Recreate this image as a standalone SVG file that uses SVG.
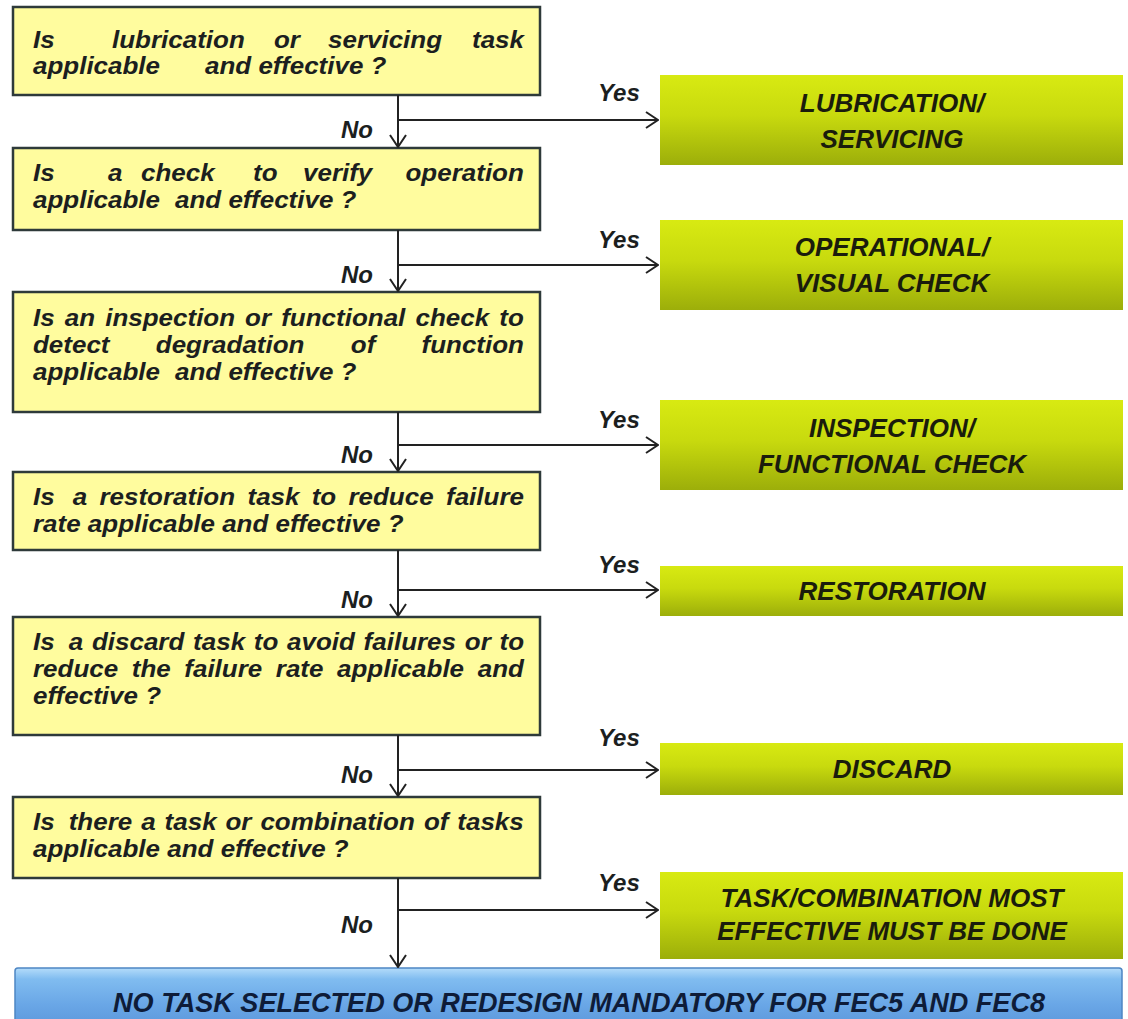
<svg xmlns="http://www.w3.org/2000/svg" width="1128" height="1019" viewBox="0 0 1128 1019">
  <defs>
    <style>
      .q { fill: #FFFC9E; stroke: #2E3A3A; stroke-width: 2.5; }
      .qt { font-family: "Liberation Sans", Arial, sans-serif; font-weight: bold; font-style: italic; font-size: 23px; fill: #1c1f1f; }
      .lbl { font-family: "Liberation Sans", Arial, sans-serif; font-weight: bold; font-style: italic; font-size: 24px; fill: #1c1f1f; }
      .act { fill: url(#greenGrad); }
      .at { font-family: "Liberation Sans", Arial, sans-serif; font-weight: bold; font-style: italic; font-size: 26px; fill: #1a1c0c; text-anchor: middle; }
      .wire { stroke: #222; stroke-width: 2; fill: none; }
      .end { fill: url(#blueGrad); stroke: #4E86C4; stroke-width: 1.5; }
      .et { font-family: "Liberation Sans", Arial, sans-serif; font-weight: bold; font-style: italic; font-size: 27px; fill: #0E1C38; }
    </style>
    <linearGradient id="greenGrad" x1="0" y1="0" x2="0" y2="1">
      <stop offset="0" stop-color="#D8EA12"/>
      <stop offset="0.45" stop-color="#C8DA0E"/>
      <stop offset="1" stop-color="#9CAE0A"/>
    </linearGradient>
    <linearGradient id="blueGrad" x1="0" y1="0" x2="0" y2="1">
      <stop offset="0" stop-color="#B4DCFA"/>
      <stop offset="0.18" stop-color="#80BCF0"/>
      <stop offset="0.6" stop-color="#69A6E6"/>
      <stop offset="1" stop-color="#5A96DA"/>
    </linearGradient>
    <marker id="open" viewBox="0 0 14 18" refX="13" refY="9" markerWidth="14" markerHeight="18" markerUnits="userSpaceOnUse" orient="auto">
      <path d="M1,1 L13,9 L1,17" fill="none" stroke="#222" stroke-width="2"/>
    </marker>
  </defs>

  <rect width="1128" height="1019" fill="#ffffff"/>

  <!-- question boxes; the wording is set in a slightly widened face -->
  <g id="q1">
    <rect class="q" x="13" y="7" width="527" height="88"/>
    <g transform="scale(1.13 1)">
      <text class="qt" y="48"><tspan x="29.2">Is</tspan><tspan x="99.12">lubrication</tspan><tspan x="242.48">or</tspan><tspan x="290.27">servicing</tspan><tspan x="417.7">task</tspan></text>
      <text class="qt" y="74"><tspan x="29.2">applicable</tspan><tspan x="181.42">and effective ?</tspan></text>
    </g>
  </g>
  <g id="q2">
    <rect class="q" x="13" y="148" width="527" height="82"/>
    <g transform="scale(1.13 1)">
      <text class="qt" y="181"><tspan x="29.2">Is</tspan><tspan x="95.58">a</tspan><tspan x="124.78">check</tspan><tspan x="223.89">to</tspan><tspan x="268.14">verify</tspan><tspan x="358.85">operation</tspan></text>
      <text class="qt" y="208"><tspan x="29.2">applicable</tspan><tspan x="154.87">and effective ?</tspan></text>
    </g>
  </g>
  <g id="q3">
    <rect class="q" x="13" y="292" width="527" height="120"/>
    <g transform="scale(1.13 1)">
      <text class="qt" y="326"><tspan x="29.2">Is</tspan><tspan x="57.35">an</tspan><tspan x="93.1">inspection</tspan><tspan x="216.9">or</tspan><tspan x="248.85">functional</tspan><tspan x="367.7">check</tspan><tspan x="441.86">to</tspan></text>
      <text class="qt" y="353"><tspan x="29.2">detect</tspan><tspan x="137.88">degradation</tspan><tspan x="310.44">of</tspan><tspan x="373.01">function</tspan></text>
      <text class="qt" y="380"><tspan x="29.2">applicable</tspan><tspan x="154.87">and effective ?</tspan></text>
    </g>
  </g>
  <g id="q4">
    <rect class="q" x="13" y="472" width="527" height="78"/>
    <g transform="scale(1.13 1)">
      <text class="qt" y="505"><tspan x="29.2">Is</tspan><tspan x="64.34">a</tspan><tspan x="87.96">restoration</tspan><tspan x="219.03">task</tspan><tspan x="275.84">to</tspan><tspan x="308.32">reduce</tspan><tspan x="394.69">failure</tspan></text>
      <text class="qt" x="29.2" y="532">rate applicable and effective ?</text>
    </g>
  </g>
  <g id="q5">
    <rect class="q" x="13" y="617" width="527" height="118"/>
    <g transform="scale(1.13 1)">
      <text class="qt" y="650"><tspan x="29.2">Is</tspan><tspan x="60.8">a</tspan><tspan x="81.33">discard</tspan><tspan x="170.88">task</tspan><tspan x="224.6">to</tspan><tspan x="253.98">avoid</tspan><tspan x="321.77">failures</tspan><tspan x="411.33">or</tspan><tspan x="442.04">to</tspan></text>
      <text class="qt" y="677"><tspan x="29.2">reduce</tspan><tspan x="116.64">the</tspan><tspan x="163.1">failure</tspan><tspan x="244.07">rate</tspan><tspan x="298.23">applicable</tspan><tspan x="422.74">and</tspan></text>
      <text class="qt" x="29.2" y="704">effective ?</text>
    </g>
  </g>
  <g id="q6">
    <rect class="q" x="13" y="797" width="527" height="81"/>
    <g transform="scale(1.13 1)">
      <text class="qt" y="830"><tspan x="29.2">Is</tspan><tspan x="60.8">there</tspan><tspan x="124.96">a</tspan><tspan x="145.66">task</tspan><tspan x="199.56">or</tspan><tspan x="230.44">combination</tspan><tspan x="375.13">of</tspan><tspan x="404.69">tasks</tspan></text>
      <text class="qt" x="29.2" y="857">applicable and effective ?</text>
    </g>
  </g>

  <!-- task boxes -->
  <g id="a1">
    <rect class="act" x="660" y="75" width="463" height="90"/>
    <text class="at" x="892" y="112">LUBRICATION/</text>
    <text class="at" x="892" y="148">SERVICING</text>
  </g>
  <g id="a2">
    <rect class="act" x="660" y="220" width="463" height="90"/>
    <text class="at" x="892" y="256">OPERATIONAL/</text>
    <text class="at" x="892" y="292">VISUAL CHECK</text>
  </g>
  <g id="a3">
    <rect class="act" x="660" y="400" width="463" height="90"/>
    <text class="at" x="892" y="437">INSPECTION/</text>
    <text class="at" x="892" y="473">FUNCTIONAL CHECK</text>
  </g>
  <g id="a4">
    <rect class="act" x="660" y="566" width="463" height="50"/>
    <text class="at" x="892" y="600">RESTORATION</text>
  </g>
  <g id="a5">
    <rect class="act" x="660" y="743" width="463" height="52"/>
    <text class="at" x="892" y="778">DISCARD</text>
  </g>
  <g id="a6">
    <rect class="act" x="660" y="872" width="463" height="87"/>
    <text class="at" x="892" y="907">TASK/COMBINATION MOST</text>
    <text class="at" x="892" y="940">EFFECTIVE MUST BE DONE</text>
  </g>

  <!-- final outcome -->
  <g id="final">
    <rect class="end" x="15" y="968" width="1107" height="62" rx="3"/>
    <text class="et" x="113" y="1012" textLength="932" lengthAdjust="spacingAndGlyphs">NO TASK SELECTED OR REDESIGN MANDATORY FOR FEC5 AND  FEC8</text>
  </g>

  <!-- connectors -->
  <g id="connectors">
    <line class="wire" x1="398" y1="95" x2="398" y2="147" marker-end="url(#open)"/>
    <line class="wire" x1="398" y1="120" x2="658" y2="120" marker-end="url(#open)"/>
    <line class="wire" x1="398" y1="230" x2="398" y2="291" marker-end="url(#open)"/>
    <line class="wire" x1="398" y1="265" x2="658" y2="265" marker-end="url(#open)"/>
    <line class="wire" x1="398" y1="412" x2="398" y2="471" marker-end="url(#open)"/>
    <line class="wire" x1="398" y1="445" x2="658" y2="445" marker-end="url(#open)"/>
    <line class="wire" x1="398" y1="550" x2="398" y2="616" marker-end="url(#open)"/>
    <line class="wire" x1="398" y1="590" x2="658" y2="590" marker-end="url(#open)"/>
    <line class="wire" x1="398" y1="735" x2="398" y2="796" marker-end="url(#open)"/>
    <line class="wire" x1="398" y1="770" x2="658" y2="770" marker-end="url(#open)"/>
    <line class="wire" x1="398" y1="878" x2="398" y2="967" marker-end="url(#open)"/>
    <line class="wire" x1="398" y1="910" x2="658" y2="910" marker-end="url(#open)"/>

    <text class="lbl" x="598" y="101">Yes</text>
    <text class="lbl" x="598" y="248">Yes</text>
    <text class="lbl" x="598" y="428">Yes</text>
    <text class="lbl" x="598" y="573">Yes</text>
    <text class="lbl" x="598" y="746">Yes</text>
    <text class="lbl" x="598" y="891">Yes</text>

    <text class="lbl" x="373" y="138" text-anchor="end">No</text>
    <text class="lbl" x="373" y="283" text-anchor="end">No</text>
    <text class="lbl" x="373" y="463" text-anchor="end">No</text>
    <text class="lbl" x="373" y="608" text-anchor="end">No</text>
    <text class="lbl" x="373" y="783" text-anchor="end">No</text>
    <text class="lbl" x="373" y="933" text-anchor="end">No</text>
  </g>
</svg>
